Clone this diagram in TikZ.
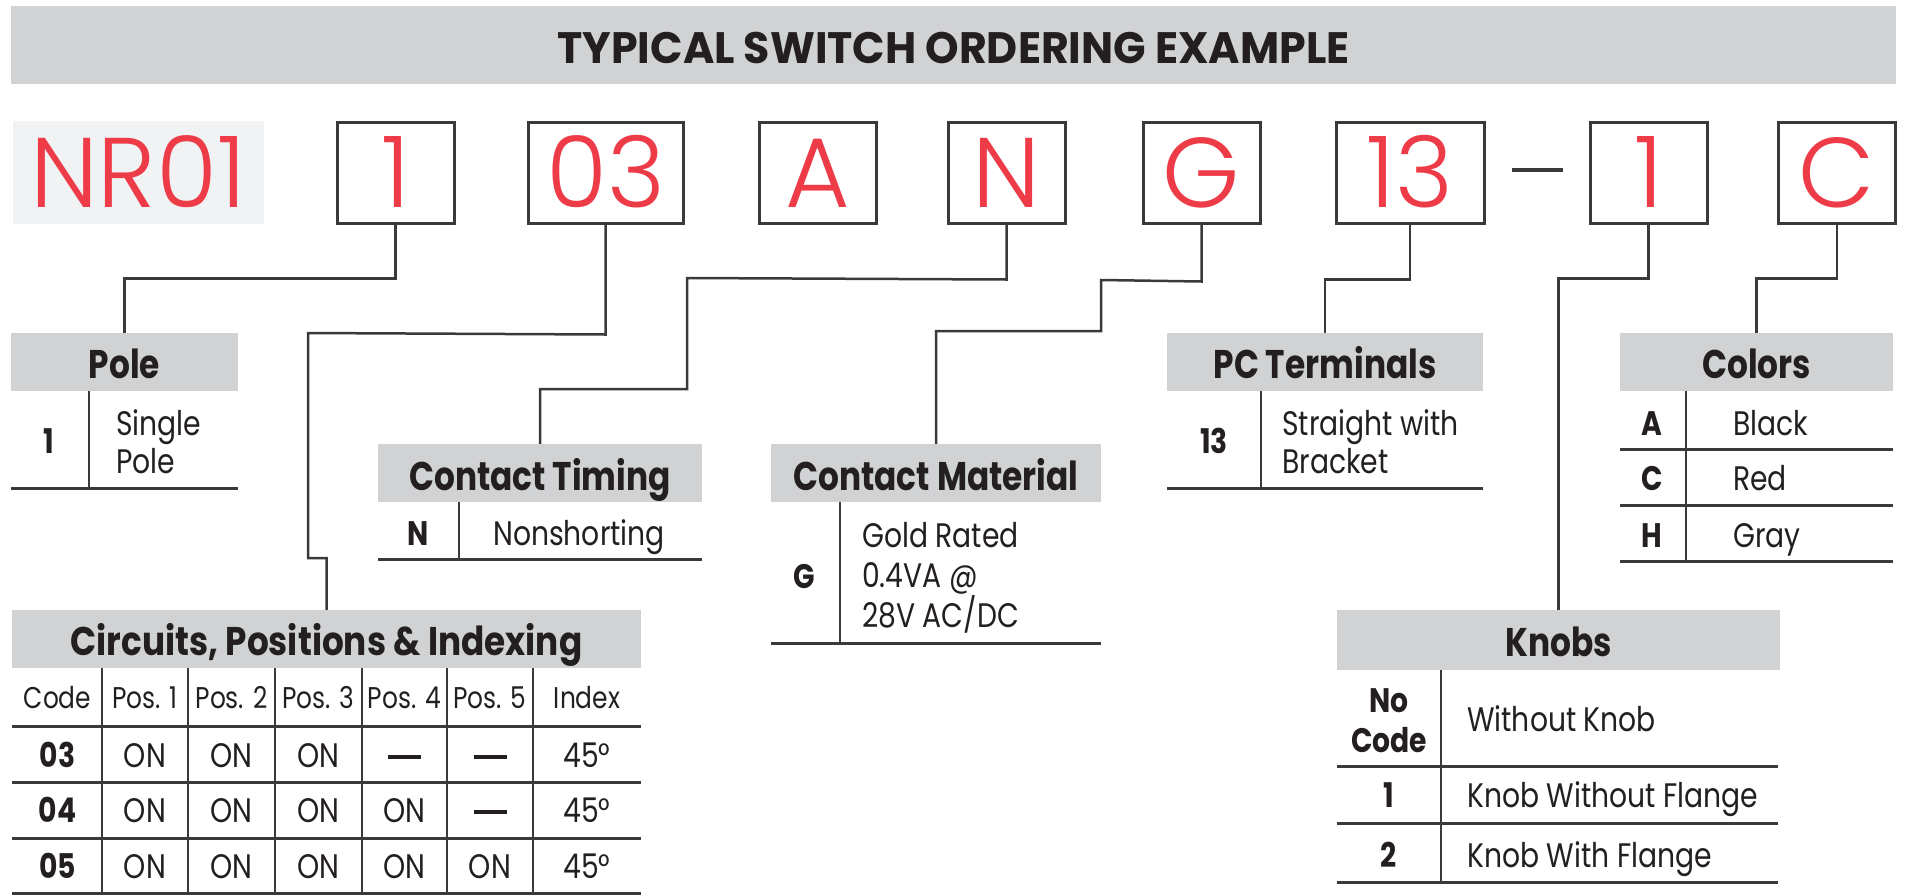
\documentclass[tikz,border=0pt]{standalone}
\usepackage{fontspec}
\setmainfont{Poppins}
\newfontfamily\titlef{Poppins}[FakeStretch=0.97]
\newfontfamily\hdrf{Poppins}[FakeStretch=0.82]
\newfontfamily\bodyf{Poppins}[FakeStretch=0.83]
\newfontfamily\redf{Poppins Light}
\definecolor{hdrgray}{HTML}{D1D2D4}
\definecolor{nrbg}{HTML}{F1F2F3}
\definecolor{redt}{HTML}{EE3B48}
\definecolor{ink}{HTML}{231F20}
\definecolor{ln}{HTML}{3A3A3A}
\newcommand\tdash{\raisebox{8pt}{\rule{33pt}{4pt}}}
\begin{document}
\begin{tikzpicture}[x=1pt,y=-1pt,
  titlebar/.style={fill=hdrgray, minimum width=1885pt, minimum height=78pt, inner sep=0pt, text height=36pt, text depth=0pt, text=ink, font=\titlef\bfseries\fontsize{44}{50}\selectfont},
  codebox/.style={draw=ln, line width=3pt, minimum height=101pt, inner sep=0pt, text height=69pt, text depth=0pt, text=redt, font=\redf\fontsize{99}{100}\selectfont},
  hdr/.style={fill=hdrgray, inner sep=0pt, minimum height=58pt, text height=32pt, text depth=0pt, text=ink, font=\hdrf\bfseries\fontsize{40}{44}\selectfont},
  conn/.style={draw=ln, line width=2.5pt},
  tl/.style={draw=ln, line width=3pt},
  vl/.style={draw=ln, line width=2.5pt},
  body/.style={inner sep=0pt, text=ink, font=\bodyf\fontsize{34}{40}\selectfont},
  small/.style={inner sep=0pt, text=ink, font=\bodyf\fontsize{30}{36}\selectfont},
  code/.style={inner sep=0pt, text=ink, font=\bodyf\bfseries\fontsize{34}{40}\selectfont}]
\useasboundingbox (0,0) rectangle (1907,895);

% title
\node[titlebar] (title) at (953.5,45) {TYPICAL SWITCH ORDERING EXAMPLE};

% part number
\node[fill=nrbg, minimum width=251pt, minimum height=103pt, inner sep=0pt, text height=69pt, text depth=0pt, text=redt, font=\redf\fontsize{99}{100}\selectfont] (nr) at (138,172.5) {NR01};
\node[codebox, minimum width=117pt] (b1) at (395.5,172.5) {1};
\node[codebox, minimum width=155pt] (b03) at (605.5,172.5) {03};
\node[codebox, minimum width=117pt] (bA) at (817.5,172.5) {A};
\node[codebox, minimum width=117pt] (bN) at (1006.5,172.5) {N};
\node[codebox, minimum width=117pt] (bG) at (1201.5,172.5) {G};
\node[codebox, minimum width=148pt] (b13) at (1410,172.5) {13};
\node[fill=ln, inner sep=0pt, minimum width=51pt, minimum height=4pt] (dash) at (1537.5,170) {};
\node[codebox, minimum width=117pt] (bK) at (1648.5,172.5) {1};
\node[codebox, minimum width=117pt] (bC) at (1837,172.5) {C};

% headers
\node[hdr, minimum width=227pt] (poleH) at (124.5,362) {Pole};
\node[hdr, minimum width=324pt, text height=34pt] (ctH) at (540,473) {Contact Timing};
\node[hdr, minimum width=330pt, text height=34pt] (cmH) at (936,473) {Contact Material};
\node[hdr, minimum width=316pt] (pcH) at (1325,362) {PC Terminals};
\node[hdr, minimum width=273pt] (coH) at (1756.5,362) {Colors};
\node[hdr, minimum width=629pt] (ciH) at (326.5,639) {\scalebox{1.045}[1]{Circuits, Positions \& Indexing}};
\node[hdr, minimum width=443pt, minimum height=60pt] (knH) at (1558.5,640) {Knobs};

% connectors
\draw[conn] (b1.south) -- ++(0,54) -| (poleH.north);
\draw[conn] (b03.south) -- ++(0,110) -- (308,333) -- (308,558) -| (ciH.north);
\draw[conn] (bN.south) -- ++(0,55) -- (687,278) -- (687,389) -| (ctH.north);
\draw[conn] (bG.south) -- ++(0,57) -- (1101,280) -- (1101,331) -| (cmH.north);
\draw[conn] (b13.south) -- ++(0,55) -| (pcH.north);
\draw[conn] (bK.south) -- ++(0,54) -| (knH.north);
\draw[conn] (bC.south) -- ++(0,54) -| (coH.north);

% Pole table
\draw[tl] (11,488) -- (238,488);
\draw[vl] (89,391) -- (89,488);
\node[code, anchor=base] (p1) at (49,453) {1};
\node[body, anchor=base west] (p1a) at (116,435) {Single};
\node[body, anchor=base west] (p1b) at (116,473) {Pole};

% Contact Timing table
\draw[tl] (378,559) -- (702,559);
\draw[vl] (459,502) -- (459,559);
\node[code, anchor=base] (ctN) at (418,545) {N};
\node[body, anchor=base west] (ctNt) at (493,545) {Nonshorting};

% Contact Material table
\draw[tl] (771,643) -- (1101,643);
\draw[vl] (840,502) -- (840,643);
\node[code, anchor=base] (cmG) at (804,588) {G};
\node[body, anchor=base west] (cmG1) at (862,547) {Gold Rated};
\node[body, anchor=base west] (cmG2) at (862,587) {0.4VA @};
\node[body, anchor=base west] (cmG3) at (862,627) {28V AC/DC};

% PC Terminals table
\draw[tl] (1167,488) -- (1483,488);
\draw[vl] (1261,391) -- (1261,488);
\node[code, anchor=base] (pc13) at (1214,453) {13};
\node[body, anchor=base west] (pc1) at (1282,435) {Straight with};
\node[body, anchor=base west] (pc2) at (1282,473) {Bracket};

% Colors table
\draw[vl] (1686,391) -- (1686,561);
\foreach \yy in {449,505,561} \draw[tl] (1620,\yy) -- (1893,\yy);
\node[code, anchor=base] (coA) at (1652,435) {A};
\node[code, anchor=base] (coC) at (1652,490) {C};
\node[code, anchor=base] (coHh) at (1652,547) {H};
\node[body, anchor=base west] (coA1) at (1733,435) {Black};
\node[body, anchor=base west] (coC1) at (1733,490) {Red};
\node[body, anchor=base west] (coH1) at (1733,547) {Gray};

% Circuits table
\foreach \yy in {726,782,838,893} \draw[tl] (12,\yy) -- (641,\yy);
\foreach \xx in {102,188,275,362,447,533} \draw[vl] (\xx,668) -- (\xx,895);
\foreach \xx/\tt [count=\i] in {57.5/Code,145/Pos. 1,231.5/Pos. 2,318.5/Pos. 3,404.5/Pos. 4,490/Pos. 5,587/Index}
  \node[small, anchor=base] (h\i) at (\xx,708) {\tt};
\node[code, anchor=base] (r1c0) at (57.5,767) {03};
\node[code, anchor=base] (r2c0) at (57.5,822) {04};
\node[code, anchor=base] (r3c0) at (57.5,878) {05};
\foreach \xx/\tt [count=\i] in {145/ON,231.5/ON,318.5/ON,404.5/\tdash,490/\tdash,587/45°}
  \node[body, anchor=base] (r1c\i) at (\xx,767) {\tt};
\foreach \xx/\tt [count=\i] in {145/ON,231.5/ON,318.5/ON,404.5/ON,490/\tdash,587/45°}
  \node[body, anchor=base] (r2c\i) at (\xx,822) {\tt};
\foreach \xx/\tt [count=\i] in {145/ON,231.5/ON,318.5/ON,404.5/ON,490/ON,587/45°}
  \node[body, anchor=base] (r3c\i) at (\xx,878) {\tt};

% Knobs table
\draw[vl] (1441,670) -- (1441,882);
\foreach \yy in {766,823,882} \draw[tl] (1337,\yy) -- (1778,\yy);
\node[code, anchor=base] (kn0a) at (1389,712) {No};
\node[code, anchor=base] (kn0b) at (1389,752) {Code};
\node[body, anchor=base west] (kn0t) at (1467,731) {Without Knob};
\node[code, anchor=base] (kn1) at (1389,807) {1};
\node[body, anchor=base west] (kn1t) at (1467,807) {Knob Without Flange};
\node[code, anchor=base] (kn2) at (1389,867) {2};
\node[body, anchor=base west] (kn2t) at (1467,867) {Knob With Flange};
\end{tikzpicture}
\end{document}
